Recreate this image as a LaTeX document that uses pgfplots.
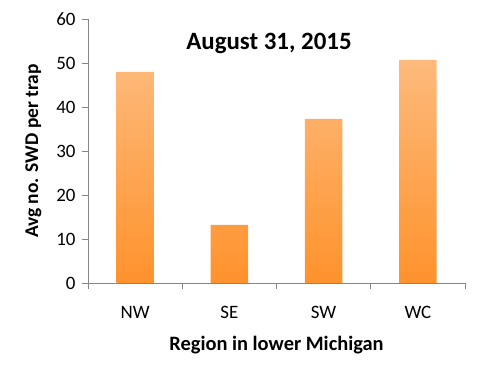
\documentclass[border=0pt]{standalone}
\usepackage{pgfplots}
\pgfplotsset{compat=1.18}
\usepackage{fontspec}
\setmainfont{Carlito}
\definecolor{axgray}{RGB}{134,134,134}
\definecolor{bartop}{RGB}{253,186,124}
\definecolor{barbot}{RGB}{255,146,44}
\begin{document}
\begin{tikzpicture}
\useasboundingbox (0,0) rectangle (480bp,370bp);
\begin{axis}[
  at={(88bp,87bp)}, anchor=south west,
  scale only axis, width=377bp, height=264bp,
  xmin=-0.5, xmax=3.5, ymin=0, ymax=60,
  axis x line*=bottom, axis y line*=left,
  axis line style={axgray, line width=0.9pt},
  every tick/.style={axgray, line width=0.9pt},
  xtick={0,1,2,3}, xticklabels={NW,SE,SW,WC},
  major x tick style={draw=none},
  minor xtick={-0.5,0.5,1.5,2.5,3.5},
  minor tick length=6bp,
  ytick={0,10,...,60}, major tick length=6bp,
  tick align=outside,
  /pgf/number format/assume math mode=true,
  ticklabel style={font=\fontsize{19}{22}\selectfont, text=black},
  xticklabel style={yshift=-14bp},
  yticklabel style={xshift=-3bp},
  xlabel={\textbf{Region in lower Michigan}},
  ylabel={\textbf{Avg no. SWD per trap}},
  xlabel style={font=\fontsize{20.5}{24}\selectfont, yshift=-10bp},
  ylabel style={font=\fontsize{19.5}{22}\selectfont, yshift=8bp},
]
\addplot[ybar, bar width=0.4, draw=none, top color=bartop, bottom color=barbot, shading angle=0] coordinates {(0,48.0) (1,13.2) (2,37.3) (3,50.7)};
\node[font=\fontsize{25}{30}\selectfont\bfseries] at (axis cs:1.42,54.5) {August 31, 2015};
\end{axis}
\end{tikzpicture}
\end{document}
